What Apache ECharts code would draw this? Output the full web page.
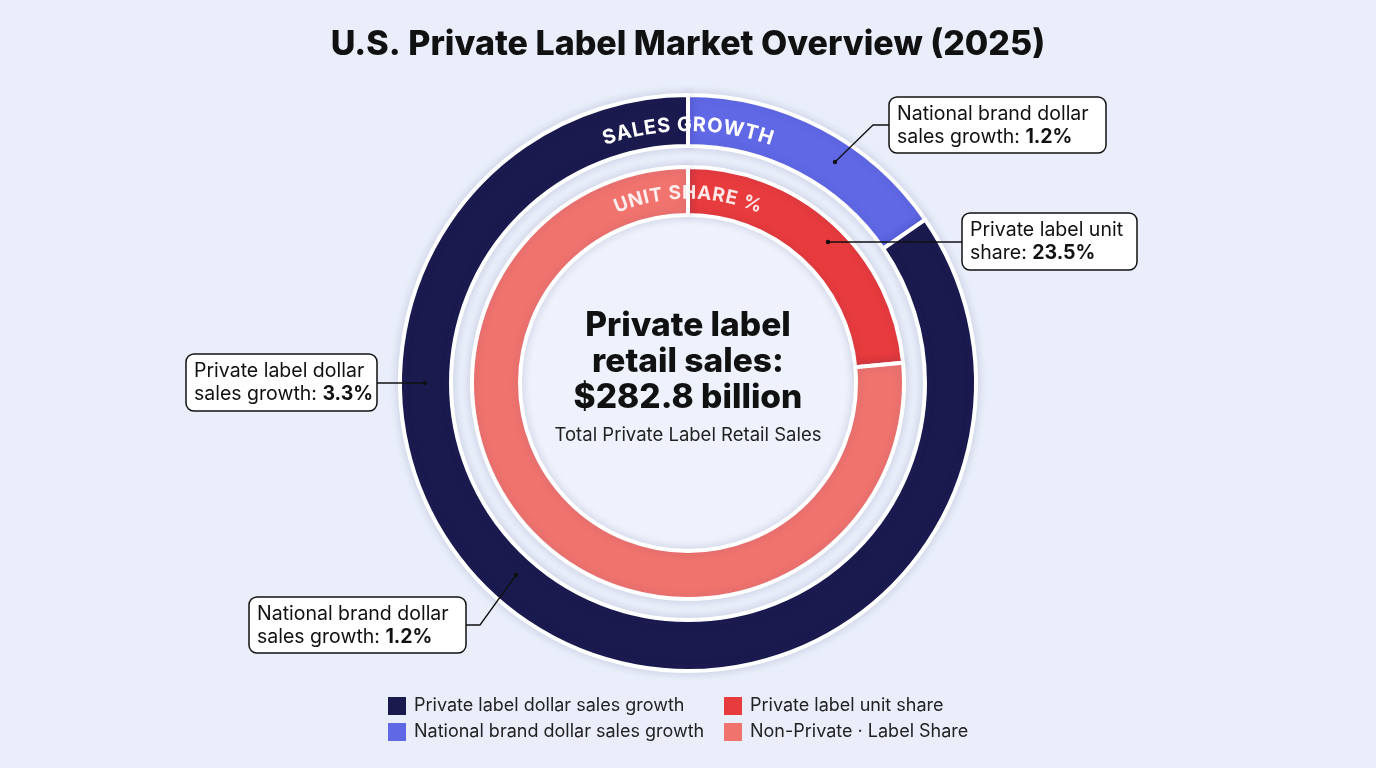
<!DOCTYPE html>
<html>
<head>
<meta charset="utf-8">
<title>U.S. Private Label Market Overview (2025)</title>
<script src="https://cdn.jsdelivr.net/npm/echarts@6/dist/echarts.min.js"></script>
<style>
    html, body { margin: 0; padding: 0; background: #e9eefa; }
    #chart { width: 1376px; height: 768px; }
</style>
</head>
<body>
<div id="chart"></div>
<script>
    // outer ring: sales growth (arc share as drawn, label value in %)
    const growthNames = ['National brand dollar sales growth', 'Private label dollar sales growth'];
    const growthArc = [15.4, 84.6];
    const growthPct = [1.2, 3.3];
    // inner ring: unit share %
    const shareNames = ['Private label unit share', 'Non-Private · Label Share'];
    const shareValues = [23.5, 76.5];
    const retailSales = 282.8;   // $ billion

    const FONT = 'Inter, "Noto Sans", sans-serif';
    const cx = 688, cy = 383;

    let myChart = echarts.init(document.getElementById('chart'));

    // letters laid out one by one along the top of a ring
    function arcText(str, r, size, color, spacing) {
        let ctx = document.createElement('canvas').getContext('2d');
        ctx.font = 'bold ' + size + 'px ' + FONT;
        let chars = str.split('');
        let ws = chars.map(c => ctx.measureText(c).width + spacing);
        let total = ws.reduce((a, b) => a + b, 0) - spacing;
        let acc = -total / 2;
        return chars.map((c, i) => {
            let th = (acc + (ws[i] - spacing) / 2) / r;
            acc += ws[i];
            return {
                type: 'text', z: 100,
                x: cx + r * Math.sin(th),
                y: cy - r * Math.cos(th),
                rotation: -th,
                style: {
                    text: c, fill: color, fontSize: size, fontWeight: 'bold', fontFamily: FONT,
                    align: 'center', verticalAlign: 'middle',
                    shadowBlur: 4, shadowColor: 'rgba(0,0,0,0.25)'
                }
            };
        });
    }

    // boxed callout with a leader line
    function callout(box, lines, title, value) {
        let els = [];
        els.push({
            type: 'polyline', z: 100,
            shape: { points: lines },
            style: { stroke: '#111', lineWidth: 1.3, fill: null }
        });
        let p = lines[0];
        els.push({ type: 'circle', z: 100, shape: { cx: p[0], cy: p[1], r: 2.2 }, style: { fill: '#111' } });
        els.push({
            type: 'rect', z: 100,
            shape: { x: box[0], y: box[1], width: box[2], height: box[3], r: 8 },
            style: { fill: '#fff', stroke: '#111', lineWidth: 1.5 }
        });
        els.push({
            type: 'text', z: 101,
            x: box[0] + 8, y: box[1] + 6,
            style: {
                text: title + '{b|' + value + '%}',
                fill: '#111', fontSize: 19.5, fontFamily: FONT, lineHeight: 23,
                align: 'left', verticalAlign: 'top',
                rich: { b: { fontWeight: 'bold', fontSize: 19.5, fontFamily: FONT, fill: '#111', lineHeight: 23 } }
            }
        });
        return els;
    }

    let ringStyle = {
        borderColor: '#fff',
        borderWidth: 4,
        shadowBlur: 10,
        shadowColor: 'rgba(40,50,110,0.15)'
    };

    let legendBase = {
        orient: 'vertical', top: 697, itemGap: 8, padding: 0,
        itemWidth: 18, itemHeight: 18, icon: 'rect',
        itemStyle: { borderWidth: 0, shadowBlur: 0 },
        textStyle: { fontFamily: FONT, fontSize: 18, color: '#222', padding: [0, 0, 0, 3] }
    };

    let option = {
        backgroundColor: '#e9eefa',
        title: {
            text: 'U.S. Private Label Market Overview (2025)',
            left: 'center',
            top: 23,
            textStyle: { fontFamily: FONT, fontSize: 34, fontWeight: 800, color: '#111' }
        },
        legend: [
            Object.assign({ left: 388, data: [growthNames[1], growthNames[0]] }, legendBase),
            Object.assign({ left: 724, data: shareNames }, legendBase)
        ],
        series: [
            {
                name: 'Sales growth',
                type: 'pie',
                center: [cx, cy],
                radius: [237, 288],
                startAngle: 90,
                silent: true,
                label: { show: false },
                labelLine: { show: false },
                itemStyle: ringStyle,
                color: ['#6068e6', '#1b1a4f'],
                data: growthNames.map((n, i) => ({ name: n, value: growthArc[i] }))
            },
            {
                name: 'Unit share %',
                type: 'pie',
                center: [cx, cy],
                radius: [168, 216],
                startAngle: 90,
                silent: true,
                label: { show: false },
                labelLine: { show: false },
                itemStyle: ringStyle,
                color: ['#e83b3d', '#f0736e'],
                data: shareNames.map((n, i) => ({ name: n, value: shareValues[i] }))
            }
        ],
        graphic: [
            // inner disc
            { type: 'circle', z: 0, shape: { cx: cx, cy: cy, r: 166 }, style: { fill: '#eef2fc' } },
            {
                type: 'text', z: 100, x: cx, y: 362,
                style: {
                    text: 'Private label\nretail sales:\n$' + retailSales + ' billion',
                    fontFamily: FONT, fontSize: 33.5, fontWeight: 800, lineHeight: 36,
                    fill: '#111', align: 'center', verticalAlign: 'middle'
                }
            },
            {
                type: 'text', z: 100, x: cx, y: 435,
                style: {
                    text: 'Total Private Label Retail Sales',
                    fontFamily: FONT, fontSize: 18.5, fill: '#222', align: 'center', verticalAlign: 'middle'
                }
            }
        ]
            .concat(arcText('SALES GROWTH', 258, 20, '#fff', 1))
            .concat(arcText('UNIT SHARE %', 190, 19, 'rgba(255,255,255,0.88)', 1))
            .concat(callout([889, 97, 217, 56], [[835, 162], [873, 125], [889, 125]],
                'National brand dollar\nsales growth: ', growthPct[0]))
            .concat(callout([962, 213, 175, 57], [[828, 242], [962, 242]],
                'Private label unit\nshare: ', shareValues[0]))
            .concat(callout([186, 354, 191, 57], [[425, 383], [377, 383]],
                'Private label dollar\nsales growth: ', growthPct[1]))
            .concat(callout([249, 597, 217, 56], [[516, 575], [480, 625], [466, 625]],
                'National brand dollar\nsales growth: ', growthPct[0]))
    };

    myChart.setOption(option);
</script>
</body>
</html>
